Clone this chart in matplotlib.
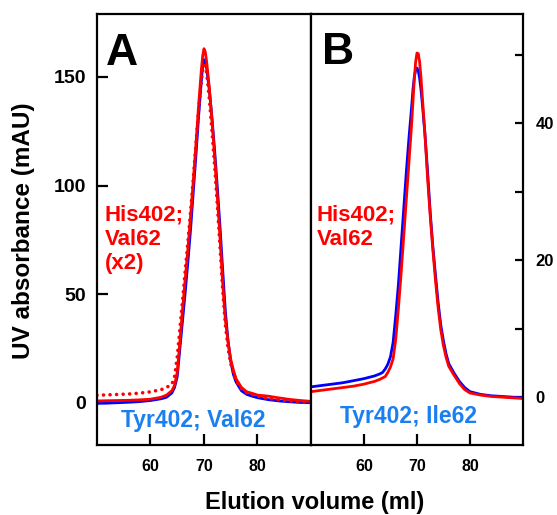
import numpy as np
import matplotlib
matplotlib.use('Agg')
import matplotlib.pyplot as plt

plt.rcParams['font.family'] = ['Liberation Sans', 'DejaVu Sans']
plt.rcParams['font.weight'] = 'bold'

# Panel A: elution profiles (mAU)
a_red_x = [50, 52, 54, 56, 58, 60, 62, 63, 64, 64.5, 65, 65.5, 66, 66.5, 67, 67.5, 68, 68.5, 69, 69.5, 69.75,
           70, 70.25, 70.5, 71, 71.5, 72, 72.5, 73, 73.5, 74, 74.5, 75, 75.5, 76, 77, 78, 79, 80, 82, 84, 86, 88, 90]
a_red_y = [0.8, 0.9, 1.0, 1.1, 1.3, 1.6, 2.5, 3.5, 5.5, 8, 14, 28, 43, 57, 71, 86, 102, 119, 137, 153, 159.5,
           163, 161.5, 157, 145, 130, 113, 95, 76, 55, 38, 28, 20, 15, 11, 7, 5, 4.3, 3.5, 3.0, 2.2, 1.5, 1.0, 0.6]

a_blue_x = [50, 52, 54, 56, 58, 60, 62, 63, 64, 64.5, 65, 65.5, 66, 66.5, 67, 67.5, 68, 68.5, 69, 69.5, 69.75,
            70, 70.25, 70.5, 71, 71.5, 72, 72.5, 73, 73.5, 74, 74.5, 75, 75.5, 76, 77, 78, 79, 80, 82, 84, 86, 88, 90]
a_blue_y = [-0.3, -0.2, 0, 0.2, 0.5, 1.0, 1.8, 2.5, 4.5, 7, 12, 25, 38, 51, 65, 80, 97, 114, 132, 148, 155,
            158, 157, 154, 144, 131, 116, 99, 81, 61, 42, 28.5, 19, 13, 9.5, 5.5, 3.8, 3.0, 2.3, 1.4, 0.8, 0.4, 0.1, 0]

a_dot_x = [50, 53, 56, 58, 60, 62, 63, 64, 64.5, 65, 65.5, 66, 66.5, 67, 67.5, 68, 68.5, 69, 69.5, 69.75,
           70, 70.25, 70.5, 71, 71.5, 72, 72.5, 73, 73.5, 74, 74.5, 75, 76, 77, 78, 80, 82, 84, 86, 88, 90]
a_dot_y = [3.4, 3.7, 4.0, 4.4, 5.0, 6.0, 7.0, 8.5, 12, 21, 34, 47, 61, 74, 88, 103, 119, 135, 148, 153,
           155.5, 155, 152, 140, 125, 109, 91, 72, 52, 36, 25, 18, 10, 6.5, 4.5, 3.0, 2.0, 1.3, 0.8, 0.4, 0.2]

# Panel B: elution profiles (mAU)
b_red_x = [50, 52, 54, 56, 58, 60, 62, 63, 64, 64.5, 65, 65.5, 66, 66.5, 67, 67.5, 68, 68.5, 69, 69.25, 69.5, 69.75,
           70, 70.25, 70.5, 70.75, 71, 71.5, 72, 72.5, 73, 73.5, 74, 74.5, 75, 75.5, 76, 77, 78, 79, 80, 82, 84, 86, 88, 90]
b_red_y = [0.8, 1.0, 1.2, 1.4, 1.6, 1.9, 2.3, 2.6, 3.0, 3.6, 4.4, 5.6, 8.5, 13, 18, 23.5, 29, 34.5, 40, 43.3, 46.5, 49,
           50.3, 50.2, 49, 46.8, 44, 38.5, 32, 26.5, 21.5, 17, 13, 9.8, 7.5, 5.8, 4.5, 3.2, 2.0, 1.1, 0.6, 0.3, 0.1, 0.0, -0.1, -0.2]

b_blue_x = [50, 52, 54, 56, 58, 60, 62, 63, 63.5, 64, 64.5, 65, 65.5, 66, 66.5, 67, 67.5, 68, 68.5, 69, 69.25, 69.5, 69.75,
            70, 70.25, 70.5, 70.75, 71, 71.5, 72, 72.5, 73, 73.5, 74, 74.5, 75, 75.5, 76, 77, 78, 79, 80, 82, 84, 86, 88, 90]
b_blue_y = [1.5, 1.7, 1.9, 2.1, 2.4, 2.7, 3.1, 3.4, 3.6, 4.1, 4.8, 5.9, 8.0, 12, 16.5, 22, 27.5, 33, 38, 42.5, 45, 46.8, 47.8,
            48.1, 47.7, 46.6, 45, 43, 38.5, 33, 27, 22, 17.8, 13.8, 10.5, 8.2, 6.3, 4.9, 3.5, 2.3, 1.4, 0.8, 0.4, 0.2, 0.1, 0, -0.1]

x_ticks = [60, 70, 80]
a_yticks = [0, 50, 100, 150]
b_yticks = [0, 10, 20, 30, 40, 50]
b_ylabels = ['0', '', '20', '', '40', '']

red = '#ff0000'
blue = '#0000ff'
label_blue = '#1a7ff0'

fig = plt.figure(figsize=(5.57, 5.15), dpi=100)
axA = fig.add_axes([0.1741, 0.1359, 0.3842, 0.8369])
axB = fig.add_axes([0.5583, 0.1359, 0.3806, 0.8369])

axA.plot(a_blue_x, a_blue_y, color=blue, lw=2.0)
axA.plot(a_dot_x, a_dot_y, color=red, lw=2.6, linestyle=(0, (0.01, 1.8)), dash_capstyle='round')
axA.plot(a_red_x, a_red_y, color=red, lw=2.0)
axA.set_xlim(50, 90)
axA.set_ylim(-19.5, 179)
axA.set_yticks(a_yticks)

axB.plot(b_blue_x, b_blue_y, color=blue, lw=2.0)
axB.plot(b_red_x, b_red_y, color=red, lw=2.0)
axB.set_xlim(50, 90)
axB.set_ylim(-7, 56)
axB.set_yticks(b_yticks)
axB.set_yticklabels(b_ylabels)
axB.yaxis.tick_right()

for ax in (axA, axB):
    ax.set_xticks(x_ticks)
    for s in ax.spines.values():
        s.set_linewidth(1.6)
    ax.tick_params(direction='in', length=8, width=1.6)
    ax.tick_params(axis='x', pad=10, labelsize=11.5)
    for t in ax.get_xticklabels() + ax.get_yticklabels():
        t.set_fontweight('bold')
axA.tick_params(axis='y', labelsize=14, pad=8)
axB.tick_params(axis='y', length=6, pad=9, labelsize=12, left=False, right=True)

# panel letters
axA.text(0.04, 0.882, 'A', transform=axA.transAxes, fontsize=32, fontweight='bold', va='baseline', ha='left')
axB.text(0.052, 0.884, 'B', transform=axB.transAxes, fontsize=32, fontweight='bold', va='baseline', ha='left')

# sample labels
axA.text(0.035, 0.557, 'His402;\nVal62\n(x2)', transform=axA.transAxes, color=red, fontsize=16,
         fontweight='bold', va='top', ha='left', linespacing=1.2)
axB.text(0.028, 0.557, 'His402;\nVal62', transform=axB.transAxes, color=red, fontsize=16,
         fontweight='bold', va='top', ha='left', linespacing=1.2)
axA.text(0.451, 0.058, 'Tyr402; Val62', transform=axA.transAxes, color=label_blue, fontsize=16.5,
         fontweight='bold', va='center', ha='center')
axB.text(0.46, 0.067, 'Tyr402; Ile62', transform=axB.transAxes, color=label_blue, fontsize=16.5,
         fontweight='bold', va='center', ha='center')

fig.text(0.564, 0.025, 'Elution volume (ml)', fontsize=17, fontweight='bold', ha='center', va='center')
fig.text(0.042, 1 - 231 / 515, 'UV absorbance (mAU)', fontsize=17.5, fontweight='bold', rotation=90,
         ha='center', va='center')

fig.savefig('out.png', dpi=100)
